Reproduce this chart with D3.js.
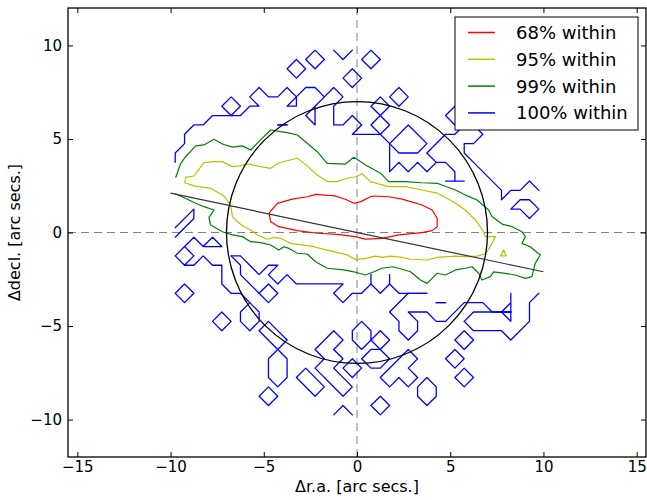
<!DOCTYPE html>
<html>
<head>
<meta charset="utf-8">
<script src="https://cdn.jsdelivr.net/npm/d3@7"></script>
<style>
  body { margin: 0; background: #fff; }
  svg text { font-family: "DejaVu Sans", sans-serif; fill: #000; }
</style>
</head>
<body>
<div id="chart"></div>
<script>
// axis setup
const xDomain = [-15.5, 15.5]
const yDomain = [-12, 12]
const xTicks = [-15, -10, -5, 0, 5, 10, 15]
const yTicks = [-10, -5, 0, 5, 10]
const xLabel = "Δr.a. [arc secs.]"
const yLabel = "Δdecl. [arc secs.]"

// circle and fitted line
const circleRadius = 7
const fitLineX = [-10, 10]
const fitLineY = [2.1, -2.1]

// legend
const levelNames = ["68% within", "95% within", "99% within", "100% within"]
const levelColors = ["#ff0000", "#bfbf00", "#008000", "#0000ff"]

// 68% contour
const red68 = [[-4.72,1.03],[-4.27,1.56],[-3.47,1.78],[-2.67,1.91],[-2.2,2.04],[-1.6,1.98],[-1.24,1.97],[-0.62,1.78],[-0.17,1.56],[0.2,1.65],[0.81,1.95],[1.7,1.91],[2.42,1.78],[3.49,1.47],[4.03,1.2],[4.3,0.76],[4.3,0.31],[4.03,0.1],[3.49,-0.01],[2.24,-0.13],[1.35,-0.31],[0.46,-0.35],[-0.1,-0.22],[-1.06,-0.1],[-2.13,-0.04],[-3.2,0.1],[-4.19,0.31],[-4.63,0.58],[-4.72,1.03]]

// 95% contour
const yellow95 = [[-9.19,2.95],[-8.74,3.02],[-8.21,3.73],[-7.67,3.79],[-7.22,3.79],[-6.68,3.52],[-6.24,3.56],[-5.8,3.66],[-5.17,3.52],[-4.63,3.43],[-4.19,3.73],[-3.2,3.97],[-2.67,3.56],[-2.13,3.07],[-1.6,2.72],[-1.06,2.72],[-0.52,2.9],[-0.08,2.98],[0.28,3.13],[0.72,2.72],[1.7,2.45],[2.6,2.45],[3.49,2.27],[4.3,2.1],[4.92,1.78],[5.28,1.56],[5.81,1.2],[6.35,0.67],[6.79,0.04],[6.88,-0.22],[7.42,-0.22],[7.15,-0.76],[6.88,-1.15],[6.44,-1.26],[5.81,-1.29],[5.28,-1.26],[4.3,-1.33],[3.76,-1.47],[2.87,-1.43],[2.42,-1.33],[1.79,-1.26],[1.35,-1.33],[0.99,-1.26],[0.46,-1.38],[-0.08,-1.45],[-0.52,-1.2],[-1.6,-0.94],[-2.31,-0.76],[-3.56,-0.58],[-4.1,-0.31],[-4.46,-0.26],[-4.81,-0.36],[-5.35,-0.13],[-5.7,0.13],[-6.06,0.31],[-6.42,0.58],[-6.68,0.85],[-6.78,1.47],[-7.1,1.9],[-7.22,2.0],[-7.85,2.36],[-8.74,2.49],[-9.24,2.66],[-9.19,2.95]]
const yellow95Island = [[7.7,-1.25],[7.87,-0.93],[8.0,-1.25],[7.7,-1.25]]

// 99% contour
const green99 = [[-9.72,2.95],[-9.45,3.7],[-9.19,4.05],[-8.65,4.63],[-8.21,4.68],[-7.67,4.98],[-7.22,4.73],[-6.68,4.56],[-6.15,4.63],[-5.7,4.41],[-5.17,4.95],[-4.63,5.48],[-4.1,5.39],[-3.74,5.34],[-3.2,5.21],[-2.67,4.77],[-2.13,4.32],[-1.6,3.7],[-0.62,3.66],[-0.17,4.02],[0.46,3.61],[1.26,3.17],[1.7,2.72],[2.6,2.72],[3.49,2.66],[4.3,2.63],[5.28,2.27],[5.81,2.0],[6.44,1.74],[7.06,1.2],[7.24,0.85],[7.78,0.45],[8.31,0.31],[8.85,0.04],[9.03,-0.22],[8.85,-0.58],[9.29,-0.76],[9.83,-1.2],[9.56,-1.65],[9.38,-2.36],[9.03,-2.45],[8.49,-2.27],[7.95,-2.18],[7.33,-2.1],[7.15,-2.36],[6.7,-2.54],[6.53,-2.18],[6.17,-1.83],[5.81,-1.91],[5.28,-2.0],[4.74,-2.27],[4.3,-2.18],[4.03,-2.45],[3.76,-2.72],[3.4,-2.54],[2.87,-2.1],[2.24,-1.91],[1.89,-1.83],[1.35,-1.91],[0.9,-2.1],[0.46,-2.27],[-0.17,-2.1],[-0.71,-2.0],[-1.6,-1.91],[-2.22,-1.56],[-2.67,-1.15],[-3.2,-1.11],[-3.65,-0.85],[-3.92,-0.76],[-4.19,-0.94],[-4.63,-0.67],[-5.17,-0.54],[-5.7,-0.49],[-6.15,-0.22],[-6.68,-0.13],[-7.22,0.04],[-7.85,0.4],[-7.94,0.81],[-7.67,1.2],[-8.21,1.38],[-8.65,1.56],[-9.1,1.78],[-9.72,2.06]]

// 100% contour, pieces
const blue100 = [
  [[-9.75,3.75],[-9.75,4.25],[-9.25,4.75],[-9.25,5.25],[-8.75,5.75],[-8.25,5.75],[-7.75,6.25],[-6.25,6.25],[-5.75,6.75],[-5.25,6.75],[-5.75,7.25],[-5.25,7.75],[-4.75,7.25],[-4.25,7.25],[-3.75,7.75],[-3.25,7.25],[-2.75,7.75],[-2.25,7.75],[-1.75,7.25],[-1.25,7.75],[-0.75,7.25],[-1.25,6.75],[-1.25,5.75],[-0.75,5.75],[-0.25,6.25],[0.25,5.75],[-0.25,5.25],[1.25,5.25],[1.75,4.75],[1.75,3.25],[2.25,3.75],[2.75,3.25],[3.25,3.75],[3.75,3.25],[4.25,3.75],[4.75,3.75],[5.25,3.25],[5.25,2.75]],
  [[-3.75,6.75],[-3.25,7.25],[-3.25,6.75],[-3.75,6.75]],
  [[-1.75,7.25],[-2.75,6.25],[-2.25,5.75],[-2.25,6.75],[-1.75,7.25]],
  [[-4.25,5.75],[-3.75,5.75]],
  [[-4.25,5.75],[-3.75,5.75]],
  [[-1.25,9.75],[-0.75,9.25],[-0.25,9.75]],
  [[1.75,4.75],[2.75,5.75],[3.75,4.75],[3.25,4.25],[2.25,4.25],[1.75,4.75]],
  [[4.25,3.75],[3.75,4.25],[4.75,5.25],[5.25,5.25],[5.75,5.75],[6.25,5.75],[6.75,5.25],[6.25,4.75],[5.75,4.75],[5.75,4.25],[6.25,3.75],[7.75,2.25],[7.75,1.75],[8.25,2.25],[8.75,2.25],[9.25,2.75],[9.75,2.25]],
  [[4.75,2.75],[5.75,2.75]],
  [[8.75,1.75],[8.25,1.25],[8.75,1.25],[9.25,0.75],[9.75,1.25],[9.25,1.75],[8.75,1.75]],
  [[-9.75,-0.25],[-8.75,0.75],[-8.75,1.25],[-9.75,0.25]],
  [[-9.25,-0.75],[-8.75,-0.25],[-8.25,-0.75],[-7.75,-0.25],[-7.25,-0.75],[-8.25,-0.75]],
  [[-9.25,-1.75],[-8.75,-1.75],[-8.25,-1.25],[-7.75,-1.75],[-7.25,-1.75],[-7.25,-2.75],[-6.75,-3.25],[-6.25,-3.25],[-5.75,-3.75]],
  [[-6.75,-1.25],[-6.25,-1.25],[-5.25,-2.25],[-4.75,-1.75],[-4.25,-1.75],[-4.75,-2.25],[-4.25,-2.75],[-3.75,-2.25],[-3.25,-2.75],[-0.75,-2.75],[-1.25,-3.25],[-0.75,-3.75],[-0.25,-3.25],[0.25,-3.25],[0.75,-2.75],[1.25,-3.25],[1.75,-2.75],[2.25,-3.25],[3.75,-3.25]],
  [[2.75,-3.25],[3.75,-3.25]],
  [[0.75,-2.75],[0.75,-2.25]],
  [[1.75,-2.75],[1.75,-2.25]],
  [[-6.75,-1.25],[-6.25,-1.75],[-6.25,-2.25],[-5.25,-3.25]],
  [[-5.75,-3.75],[-5.25,-4.25],[-5.25,-4.75],[-5.75,-5.25],[-6.25,-4.75],[-6.25,-4.25],[-5.75,-3.75]],
  [[-5.25,-5.25],[-4.75,-4.75],[-3.75,-5.75],[-4.25,-6.25],[-5.25,-5.25]],
  [[-4.75,-6.75],[-4.25,-6.25],[-3.75,-6.75],[-3.75,-7.75],[-4.25,-8.25],[-4.75,-7.75],[-4.75,-6.75]],
  [[-3.25,-7.75],[-2.75,-7.25],[-1.75,-8.25],[-2.25,-8.75],[-3.25,-7.75]],
  [[-2.25,-6.25],[-1.25,-5.25],[-0.75,-5.75],[-1.25,-6.25],[-0.75,-6.75],[-1.25,-7.25],[-0.25,-8.25],[-0.75,-8.75],[-2.25,-7.25],[-1.75,-6.75],[-2.25,-6.25]],
  [[-1.25,-9.75],[-0.75,-9.25],[-0.25,-9.75]],
  [[0.25,-4.75],[0.75,-5.25],[0.75,-5.75],[0.25,-6.25],[-0.25,-5.75],[-0.25,-5.25],[0.25,-4.75]],
  [[0.25,-6.75],[0.75,-6.25],[1.25,-6.25],[1.75,-6.75],[1.25,-7.25],[0.75,-7.25],[0.25,-6.75]],
  [[2.75,-6.25],[3.25,-6.75],[2.75,-7.25],[3.25,-7.75],[2.75,-8.25],[2.25,-7.75],[1.75,-8.25],[1.25,-7.75],[2.75,-6.25]],
  [[3.75,-7.75],[4.25,-8.25],[4.25,-8.75],[3.75,-9.25],[3.25,-8.75],[3.25,-8.25],[3.75,-7.75]],
  [[2.75,-3.25],[1.75,-4.25],[2.25,-4.75],[2.25,-5.25],[2.75,-5.75],[3.25,-5.25],[3.25,-4.75],[2.75,-4.25],[3.75,-4.25],[4.25,-4.75],[4.75,-4.75],[5.75,-3.75],[6.75,-3.75],[7.25,-4.25],[8.25,-4.25]],
  [[7.25,-4.25],[8.25,-4.25]],
  [[4.25,-3.75],[4.75,-3.75]],
  [[4.25,-3.75],[4.75,-3.75]],
  [[8.25,-3.25],[8.25,-4.75],[7.75,-4.25],[8.25,-3.75]],
  [[5.75,-4.75],[6.25,-4.25],[7.25,-4.25]],
  [[5.75,-4.75],[6.25,-5.25],[7.75,-5.25],[8.25,-5.75],[9.25,-4.75],[9.25,-3.75],[9.75,-3.25]]
]
// isolated single-cell blue diamonds (centres)
const blueCells = [[-6.75,6.75],[-3.25,8.75],[-2.25,9.25],[0.75,9.25],[-0.25,8.25],[2.25,7.25],[1.25,6.75],[1.25,5.75],[5.25,6.25],[-9.25,-1.25],[-4.75,-3.25],[-9.25,-3.25],[-7.25,-4.75],[-4.75,-8.75],[-0.25,-7.25],[1.25,-5.75],[1.25,-9.25],[5.75,-5.75],[5.25,-6.75],[5.75,-7.75]]
const cellHalf = 0.5

const width = 647
const height = 500
const margin = { top: 8, right: 1, bottom: 43, left: 68 }

const x = d3.scaleLinear().domain(xDomain).range([margin.left, width - margin.right])
const y = d3.scaleLinear().domain(yDomain).range([height - margin.bottom, margin.top])
const fmt = d => (d < 0 ? "\u2212" + Math.abs(d) : String(d))

const svg = d3
  .select("#chart")
  .append("svg")
  .attr("width", width)
  .attr("height", height)

svg
  .append("defs")
  .append("clipPath")
  .attr("id", "plot")
  .append("rect")
  .attr("x", x(xDomain[0]))
  .attr("y", y(yDomain[1]))
  .attr("width", x(xDomain[1]) - x(xDomain[0]))
  .attr("height", y(yDomain[0]) - y(yDomain[1]))

const plot = svg.append("g").attr("clip-path", "url(#plot)")

const line = d3
  .line()
  .x(d => x(d[0]))
  .y(d => y(d[1]))

// dashed zero lines
plot
  .append("line")
  .attr("x1", x(0))
  .attr("x2", x(0))
  .attr("y1", y(yDomain[0]))
  .attr("y2", y(yDomain[1]))
  .attr("stroke", "#808080")
  .attr("stroke-width", 1)
  .attr("stroke-dasharray", "8,5")
plot
  .append("line")
  .attr("x1", x(xDomain[0]))
  .attr("x2", x(xDomain[1]))
  .attr("y1", y(0))
  .attr("y2", y(0))
  .attr("stroke", "#808080")
  .attr("stroke-width", 1)
  .attr("stroke-dasharray", "8,5")

// contours
const contours = plot
  .append("g")
  .attr("fill", "none")
  .attr("stroke-linejoin", "round")
  .attr("stroke-linecap", "round")

contours
  .selectAll("path.blue")
  .data(blue100)
  .enter()
  .append("path")
  .attr("class", "blue")
  .attr("d", line)
  .attr("stroke", levelColors[3])
  .attr("stroke-width", 1.3)

contours
  .selectAll("path.cell")
  .data(blueCells)
  .enter()
  .append("path")
  .attr("class", "cell")
  .attr("d", ([cx, cy]) =>
    line([
      [cx - cellHalf, cy],
      [cx, cy + cellHalf],
      [cx + cellHalf, cy],
      [cx, cy - cellHalf],
      [cx - cellHalf, cy],
    ])
  )
  .attr("stroke", levelColors[3])
  .attr("stroke-width", 1.3)

contours
  .append("path")
  .datum(green99)
  .attr("d", line)
  .attr("stroke", levelColors[2])
  .attr("stroke-width", 1.2)

contours
  .selectAll("path.yellow")
  .data([yellow95, yellow95Island])
  .enter()
  .append("path")
  .attr("class", "yellow")
  .attr("d", line)
  .attr("stroke", levelColors[1])
  .attr("stroke-width", 1.2)

contours
  .append("path")
  .datum(red68)
  .attr("d", line)
  .attr("stroke", levelColors[0])
  .attr("stroke-width", 1.2)

// circle and fitted line
plot
  .append("ellipse")
  .attr("cx", x(0))
  .attr("cy", y(0))
  .attr("rx", x(circleRadius) - x(0))
  .attr("ry", y(0) - y(circleRadius))
  .attr("fill", "none")
  .attr("stroke", "#000")
  .attr("stroke-width", 1.3)

plot
  .append("path")
  .datum(fitLineX.map((v, i) => [v, fitLineY[i]]))
  .attr("d", line)
  .attr("fill", "none")
  .attr("stroke", "#333")
  .attr("stroke-width", 1.2)

// axes, ticks pointing inward on all four sides
const axisBottom = svg
  .append("g")
  .attr("transform", `translate(0,${y(yDomain[0])})`)
  .call(d3.axisBottom(x).tickValues(xTicks).tickSizeInner(-5).tickSizeOuter(0).tickPadding(4).tickFormat(fmt))
const axisTop = svg
  .append("g")
  .attr("transform", `translate(0,${y(yDomain[1])})`)
  .call(d3.axisTop(x).tickValues(xTicks).tickSizeInner(-5).tickSizeOuter(0).tickFormat(""))
const axisLeft = svg
  .append("g")
  .attr("transform", `translate(${x(xDomain[0])},0)`)
  .call(d3.axisLeft(y).tickValues(yTicks).tickSizeInner(-5).tickSizeOuter(0).tickPadding(6).tickFormat(fmt))
const axisRight = svg
  .append("g")
  .attr("transform", `translate(${x(xDomain[1])},0)`)
  .call(d3.axisRight(y).tickValues(yTicks).tickSizeInner(-5).tickSizeOuter(0).tickFormat(""))

;[axisBottom, axisTop, axisLeft, axisRight].forEach(g => {
  g.select(".domain").remove()
  g.selectAll(".tick line").attr("stroke", "#000").attr("stroke-width", 1)
  g.selectAll(".tick text").attr("font-size", 15).attr("font-family", "DejaVu Sans")
})

svg
  .append("rect")
  .attr("x", x(xDomain[0]))
  .attr("y", y(yDomain[1]))
  .attr("width", x(xDomain[1]) - x(xDomain[0]))
  .attr("height", y(yDomain[0]) - y(yDomain[1]))
  .attr("fill", "none")
  .attr("stroke", "#000")
  .attr("stroke-width", 1.3)

// axis labels
svg
  .append("text")
  .attr("x", (x(xDomain[0]) + x(xDomain[1])) / 2)
  .attr("y", 492)
  .attr("text-anchor", "middle")
  .attr("font-size", 16)
  .text(xLabel)
svg
  .append("text")
  .attr("transform", `translate(20,${(y(yDomain[0]) + y(yDomain[1])) / 2}) rotate(-90)`)
  .attr("text-anchor", "middle")
  .attr("font-size", 16)
  .text(yLabel)

// legend
const legend = svg.append("g").attr("transform", "translate(455,17)")
legend
  .append("rect")
  .attr("width", 183)
  .attr("height", 113)
  .attr("fill", "#fff")
  .attr("stroke", "#000")
  .attr("stroke-width", 1)
const item = legend
  .selectAll("g.item")
  .data(levelNames)
  .enter()
  .append("g")
  .attr("class", "item")
  .attr("transform", (d, i) => `translate(0,${15.5 + i * 26.8})`)
item
  .append("line")
  .attr("x1", 13)
  .attr("x2", 40)
  .attr("stroke", (d, i) => levelColors[i])
  .attr("stroke-width", 1.5)
item
  .append("text")
  .attr("x", 61)
  .attr("dy", "0.36em")
  .attr("font-size", 18)
  .text(d => d)
</script>
</body>
</html>
